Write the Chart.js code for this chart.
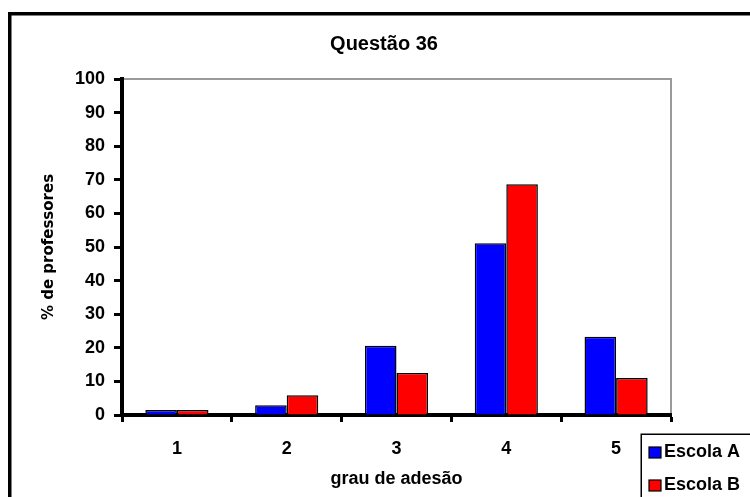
<!DOCTYPE html>
<html>
<head>
<meta charset="utf-8">
<script src="https://cdn.jsdelivr.net/npm/chart.js@4/dist/chart.umd.min.js"></script>
<style>
  html, body { margin: 0; padding: 0; background: #fff; }
  #wrap { width: 750px; height: 497px; }
</style>
</head>
<body>
<div id="wrap"><canvas id="c" width="750" height="497"></canvas></div>
<script>
// Grau de adesão (1 a 5) e % de professores por escola
const categories = ['1', '2', '3', '4', '5'];
const escolaA = [1.5, 2.9, 20.6, 51.1, 23.3];
const escolaB = [1.5, 5.9, 12.5, 68.7, 11.0];
const seriesNames = ['Escola A', 'Escola B'];
const yTicks = [0, 10, 20, 30, 40, 50, 60, 70, 80, 90, 100];

const chartTitle = 'Questão 36';
const yTitle = '% de professores';
const xTitle = 'grau de adesão';

const sans = "'Liberation Sans', Arial, sans-serif";

// Outer frame, plot-area border (top/right), title and legend box
const decor = {
  id: 'decor',
  beforeDraw(chart) {
    const ctx = chart.ctx;
    const a = chart.chartArea;
    ctx.save();
    ctx.fillStyle = '#fff';
    ctx.fillRect(0, 0, chart.width, chart.height);
    ctx.strokeStyle = '#000';
    ctx.lineWidth = 3.5;
    ctx.strokeRect(9.75, 13.75, 900, 600);
    ctx.strokeStyle = '#9a9a9a';
    ctx.lineWidth = 2;
    ctx.beginPath();
    ctx.moveTo(a.left, a.top);
    ctx.lineTo(a.right, a.top);
    ctx.lineTo(a.right, a.bottom);
    ctx.stroke();
    ctx.fillStyle = '#000';
    ctx.font = 'bold 20px ' + sans;
    ctx.textAlign = 'center';
    ctx.textBaseline = 'middle';
    ctx.fillText(chartTitle, 384, 44);
    ctx.restore();
  },
  afterDraw(chart) {
    const ctx = chart.ctx;
    ctx.save();
    ctx.fillStyle = '#fff';
    ctx.fillRect(641, 434, 200, 100);
    ctx.strokeStyle = '#000';
    ctx.lineWidth = 1.5;
    ctx.strokeRect(641.25, 434.25, 200, 100);
    const rows = [452.5, 485.5];
    chart.data.datasets.forEach((ds, i) => {
      const cy = rows[i];
      ctx.fillStyle = ds.backgroundColor;
      ctx.fillRect(649, cy - 5.5, 12, 11);
      ctx.strokeStyle = '#000';
      ctx.lineWidth = 1.2;
      ctx.strokeRect(649, cy - 5.5, 12, 11);
      ctx.fillStyle = '#000';
      ctx.font = 'bold 18px ' + sans;
      ctx.textAlign = 'left';
      ctx.textBaseline = 'middle';
      ctx.fillText(ds.label, 664, cy);
    });
    ctx.restore();
  }
};

new Chart(document.getElementById('c'), {
  type: 'bar',
  data: {
    labels: categories,
    datasets: [
      { label: seriesNames[0], data: escolaA, backgroundColor: '#0000ff', borderColor: '#000', borderWidth: 1.5, borderSkipped: 'bottom' },
      { label: seriesNames[1], data: escolaB, backgroundColor: '#ff0000', borderColor: '#000', borderWidth: 1.5, borderSkipped: 'bottom' }
    ]
  },
  options: {
    responsive: false,
    animation: false,
    devicePixelRatio: 1,
    layout: { padding: { left: 0, top: 79, right: 79, bottom: 0 } },
    datasets: { bar: { categoryPercentage: 0.575, barPercentage: 1.0 } },
    plugins: {
      legend: { display: false },
      title: { display: false },
      tooltip: { enabled: false }
    },
    scales: {
      x: {
        grid: { display: true, drawOnChartArea: false, drawTicks: true, tickLength: 7, tickWidth: 3, tickColor: '#000', offset: true },
        border: { display: true, width: 4, color: '#000' },
        ticks: { color: '#000', padding: 16, font: { family: sans, size: 18, weight: 'bold' }, maxRotation: 0 },
        title: { display: true, text: xTitle, color: '#000', font: { family: sans, size: 18, weight: 'bold' }, padding: { top: 0, bottom: 7 } },
        afterFit(scale) { scale.height = 82; }
      },
      y: {
        min: 0,
        max: 100,
        afterBuildTicks(scale) { scale.ticks = yTicks.map(v => ({ value: v })); },
        grid: { display: true, drawOnChartArea: false, drawTicks: true, tickLength: 8, tickWidth: 3, tickColor: '#000' },
        border: { display: true, width: 4, color: '#000' },
        ticks: { color: '#000', padding: 9, font: { family: sans, size: 18, weight: 'bold' } },
        title: { display: true, text: yTitle, color: '#000', font: { family: "'DejaVu Sans', sans-serif", size: 15, weight: 'bold' }, padding: { top: 40, bottom: 0 } },
        afterFit(scale) { scale.width = 122; }
      }
    }
  },
  plugins: [decor]
});
</script>
</body>
</html>
